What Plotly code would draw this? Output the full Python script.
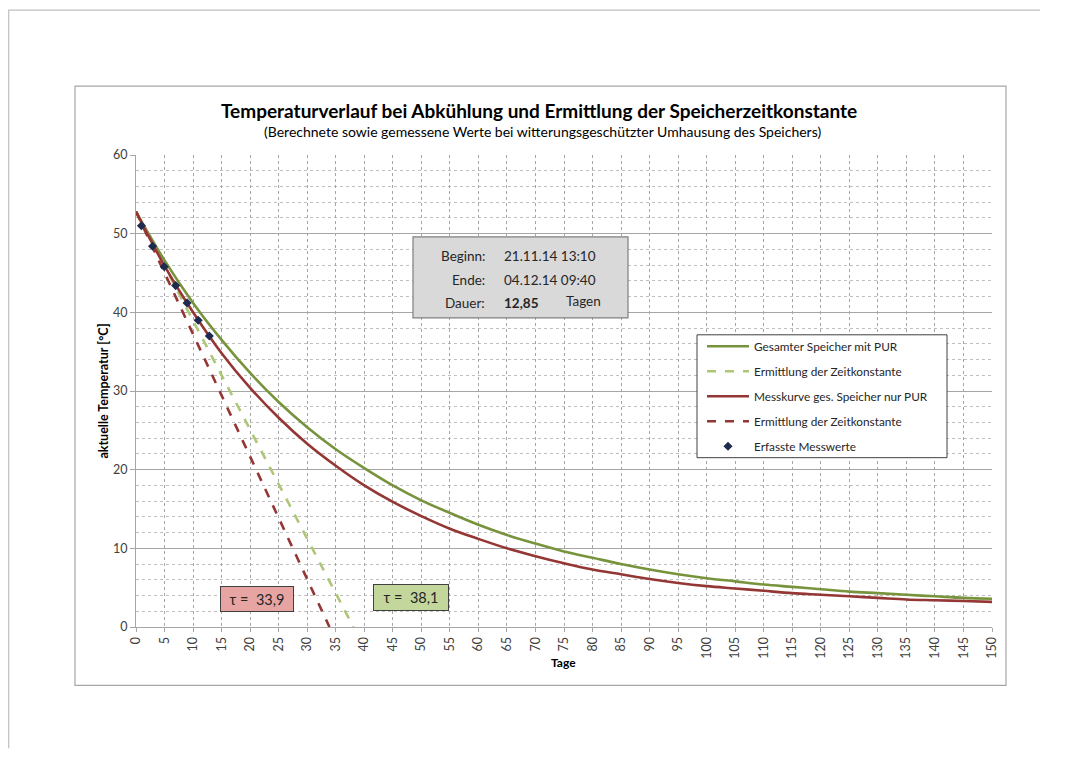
import plotly.graph_objects as go

# ---------------- data ----------------
days = [0, 5, 10, 15, 20, 25, 30, 35, 40, 45, 50, 55, 60, 65, 70, 75, 80, 85,
        90, 95, 100, 105, 110, 115, 120, 125, 130, 135, 140, 145, 150]
temp_gesamt_pur = [52.8, 46.6, 41.2, 36.5, 32.3, 28.6, 25.4, 22.6, 20.2, 18.0, 16.1,
                   14.5, 13.0, 11.7, 10.6, 9.6, 8.8, 8.0, 7.3, 6.7, 6.2, 5.8, 5.4,
                   5.1, 4.8, 4.5, 4.3, 4.1, 3.9, 3.7, 3.6]
temp_nur_pur = [52.8, 45.9, 40.0, 34.8, 30.4, 26.6, 23.3, 20.5, 18.0, 15.9, 14.1,
                12.5, 11.2, 10.0, 9.0, 8.1, 7.3, 6.7, 6.1, 5.6, 5.2, 4.9, 4.6,
                4.3, 4.1, 3.9, 3.7, 3.5, 3.4, 3.3, 3.2]
tangent_green_x = [0, 38.1]
tangent_green_y = [52.8, 0]
tangent_red_x = [0, 33.9]
tangent_red_y = [52.8, 0]
mess_days = [0.95, 2.9, 4.95, 6.95, 8.95, 10.9, 12.85]
mess_temp = [51.0, 48.4, 45.8, 43.4, 41.2, 39.0, 37.0]
x_ticks = list(range(0, 151, 5))
y_ticks = list(range(0, 61, 10))

title = "Temperaturverlauf bei Abkühlung und Ermittlung der Speicherzeitkonstante"
subtitle = "(Berechnete sowie gemessene Werte bei witterungsgeschützter Umhausung des Speichers)"
info_labels = ["Beginn:", "Ende:", "Dauer:"]
info_values = ["21.11.14 13:10", "04.12.14 09:40", "<b>12,85</b>"]
tau_red = "τ =  33,9"
tau_green = "τ =  38,1"

FONT = "Lato, 'Open Sans', sans-serif"
GREEN = "#77933C"
GREEN_L = "#ADC777"
RED = "#943634"
MARK = "#1F2A4F"

fig = go.Figure()
fig.add_trace(go.Scatter(x=days, y=temp_gesamt_pur, mode="lines", line_shape="spline",
                         line=dict(color=GREEN, width=2.6),
                         name="Gesamter Speicher mit PUR", legendgroup="a"))
fig.add_trace(go.Scatter(x=tangent_green_x, y=tangent_green_y, mode="lines",
                         line=dict(color=GREEN_L, width=2.6, dash="dash"),
                         name="Ermittlung der Zeitkonstante", legendgroup="b"))
fig.add_trace(go.Scatter(x=days, y=temp_nur_pur, mode="lines", line_shape="spline",
                         line=dict(color=RED, width=2.6),
                         name="Messkurve ges. Speicher nur PUR", legendgroup="c"))
fig.add_trace(go.Scatter(x=tangent_red_x, y=tangent_red_y, mode="lines",
                         line=dict(color=RED, width=2.6, dash="dash"),
                         name="Ermittlung der Zeitkonstante", legendgroup="d"))
fig.add_trace(go.Scatter(x=mess_days, y=mess_temp, mode="markers",
                         marker=dict(symbol="diamond", size=7, color=MARK),
                         name="Erfasste Messwerte", legendgroup="e"))

OFF = 8  # page body margin
W, H = 1053, 741
L = 136 - OFF
T = 155 - OFF
R = W - (992 - OFF)
B = H - (627.5 - OFF)
pw = W - L - R
ph = H - T - B


def px(x):
    """page x pixel -> paper coordinate"""
    return (x - OFF - L) / pw


def py(y):
    """page y pixel -> paper coordinate"""
    return (H - B - (y - OFF)) / ph


shapes = [
    dict(type="line", xref="paper", yref="paper", x0=px(8), x1=px(1040), y0=py(10), y1=py(10),
         line=dict(color="#BFBFBF", width=1.2)),
    dict(type="line", xref="paper", yref="paper", x0=px(8.7), x1=px(8.7), y0=py(10), y1=py(OFF + H),
         line=dict(color="#BFBFBF", width=1.2)),
    dict(type="rect", xref="paper", yref="paper", x0=px(75), x1=px(1006), y0=py(86), y1=py(686),
         line=dict(color="#A6A6A6", width=1.2), layer="below"),
    dict(type="rect", xref="paper", yref="paper", x0=px(413), x1=px(628), y0=py(237), y1=py(318),
         fillcolor="#D9D9D9", line=dict(color="#7F7F7F", width=1.2), layer="above"),
    # legend frame
    dict(type="rect", xref="paper", yref="paper", x0=px(697), x1=px(947), y0=py(335), y1=py(458),
         fillcolor="white", line=dict(color="#404040", width=1), layer="above"),
]

annotations = [
    dict(text="<b>" + title + "</b>", xref="paper", yref="paper", x=px(539), y=py(110),
         xanchor="center", yanchor="middle", showarrow=False,
         font=dict(family=FONT, size=19, color="#000000")),
    dict(text=subtitle, xref="paper", yref="paper", x=px(542), y=py(131),
         xanchor="center", yanchor="middle", showarrow=False,
         font=dict(family=FONT, size=14, color="#000000")),
    dict(text="<b>Tage</b>", xref="paper", yref="paper", x=px(563), y=py(663),
         xanchor="center", yanchor="middle", showarrow=False,
         font=dict(family=FONT, size=12, color="#000000")),
]
rows_y = [256, 280, 303]
for lab, val, yy in zip(info_labels, info_values, rows_y):
    annotations.append(dict(text=lab, xref="paper", yref="paper", x=px(487), y=py(yy),
                            xanchor="right", yanchor="middle", showarrow=False,
                            font=dict(family=FONT, size=13.5, color="#262626")))
    annotations.append(dict(text=val, xref="paper", yref="paper", x=px(502), y=py(yy),
                            xanchor="left", yanchor="middle", showarrow=False,
                            font=dict(family=FONT, size=13.5, color="#262626")))
annotations.append(dict(text="Tagen", xref="paper", yref="paper", x=px(564), y=py(301),
                        xanchor="left", yanchor="middle", showarrow=False,
                        font=dict(family=FONT, size=13.5, color="#262626")))
annotations.append(dict(text=tau_red, x=21.2, y=3.5, xref="x", yref="y", showarrow=False,
                        xanchor="center", yanchor="middle",
                        bgcolor="#E6A5A3", bordercolor="#404040", borderwidth=1,
                        width=70, height=22, borderpad=1,
                        font=dict(family=FONT, size=14.5, color="#262626")))
annotations.append(dict(text=tau_green, x=48.2, y=3.8, xref="x", yref="y", showarrow=False,
                        xanchor="center", yanchor="middle",
                        bgcolor="#C3D69B", bordercolor="#404040", borderwidth=1,
                        width=72, height=23, borderpad=1,
                        font=dict(family=FONT, size=14.5, color="#262626")))

fig.update_layout(
    width=W, height=H,
    margin=dict(l=L, r=R, t=T, b=B, autoexpand=False),
    paper_bgcolor="white", plot_bgcolor="white",
    font=dict(family=FONT, size=12, color="#404040"),
    shapes=shapes, annotations=annotations,
    showlegend=True,
    legend=dict(x=px(702), y=py(332), xanchor="left", yanchor="top",
                bgcolor="rgba(0,0,0,0)", borderwidth=0,
                font=dict(family=FONT, size=11.8, color="#262626"),
                traceorder="grouped", tracegroupgap=6, itemwidth=42),
    xaxis=dict(range=[0, 150], tickvals=x_ticks, ticktext=[str(v) for v in x_ticks],
               tickangle=-90, showgrid=True, gridcolor="#A6A6A6", griddash="dot", gridwidth=1,
               showline=True, linecolor="#A6A6A6", linewidth=1, ticks="outside",
               ticklen=4, tickcolor="#A6A6A6", zeroline=False,
               tickfont=dict(family=FONT, size=12.5, color="#404040")),
    yaxis=dict(range=[0, 60], tickvals=y_ticks, showgrid=True, gridcolor="#A6A6A6",
               gridwidth=1, showline=True, linecolor="#A6A6A6", linewidth=1,
               ticks="outside", ticklen=5, tickcolor="#A6A6A6", zeroline=False,
               minor=dict(dtick=2, showgrid=True, gridcolor="#BFBFBF", griddash="dot",
                          gridwidth=1, ticks=""),
               tickfont=dict(family=FONT, size=12.5, color="#404040"),
               title=dict(text="<b>aktuelle Temperatur [°C]</b>", standoff=1,
                          font=dict(family=FONT, size=12.5, color="#000000"))),
)

fig.write_html("out.html")
